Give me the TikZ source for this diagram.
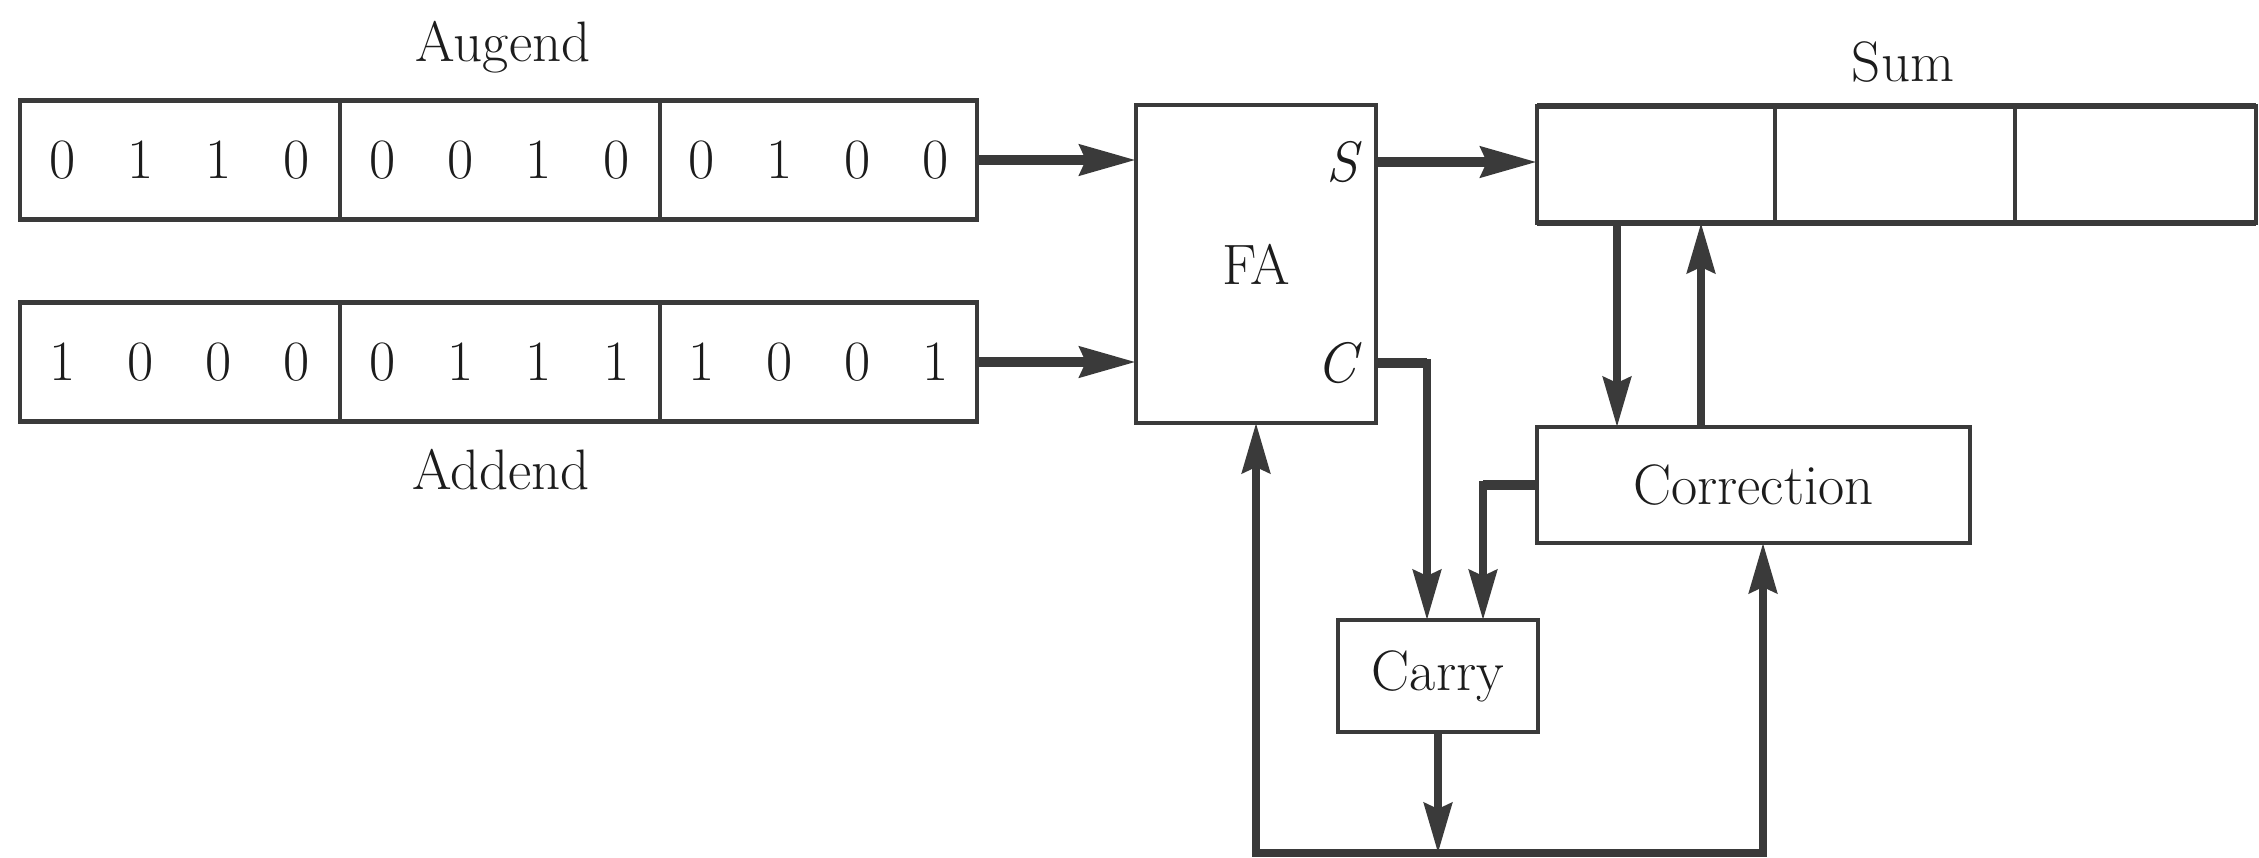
\documentclass[tikz,border=0pt]{standalone}
\usetikzlibrary{arrows.meta}
\definecolor{ink}{HTML}{3A3A3A}
\definecolor{txt}{HTML}{1C1C1C}
\newcommand\bits[4]{\makebox[39pt]{#1}\makebox[39pt]{#2}\makebox[39pt]{#3}\makebox[39pt]{#4}}
\begin{document}
\begin{tikzpicture}[x=0.5pt,y=-0.5pt,
  every node/.style={font=\fontsize{28.5pt}{34pt}\selectfont, text=txt},
  cell/.style={minimum height=59.5pt, inner sep=0pt, outer sep=0pt},
  blk/.style={draw=ink, line width=2.4pt, inner sep=0pt, outer sep=0pt},
  frame/.style={draw=ink, line width=2.1pt},
  rail/.style={draw=ink, line width=2.8pt},
  divider/.style={draw=ink, line width=1.6pt},
  conn/.style={draw=ink, line width=3.8pt, -{Stealth[length=25pt,width=14pt,inset=3pt]}},
  bus/.style={draw=ink, line width=5pt, -{Stealth[length=28pt,width=15pt,inset=3pt]}},
  busline/.style={draw=ink, line width=5pt}]
\fill[white] (0,0) rectangle (2259,857);
\useasboundingbox (0,0) rectangle (2259,857);

% Augend register
\node[cell, minimum width=160pt] (a1) at (180,160) {\bits0110};
\node[cell, minimum width=160pt] (a2) at (500,160) {\bits0010};
\node[cell, minimum width=158.5pt] (a3) at (818.5,160) {\bits0100};
\draw[frame] (a1.north west) rectangle (a3.south east);
\draw[rail] (a1.north west) -- (a3.north east) (a1.south west) -- (a3.south east);
\draw[divider] (a1.north east) -- (a1.south east) (a2.north east) -- (a2.south east);
\node (augl) at (503,47) {Augend};

% Addend register
\node[cell, minimum width=160pt] (b1) at (180,362) {\bits1000};
\node[cell, minimum width=160pt] (b2) at (500,362) {\bits0111};
\node[cell, minimum width=158.5pt] (b3) at (818.5,362) {\bits1001};
\draw[frame] (b1.north west) rectangle (b3.south east);
\draw[rail] (b1.north west) -- (b3.north east) (b1.south west) -- (b3.south east);
\draw[divider] (b1.north east) -- (b1.south east) (b2.north east) -- (b2.south east);
\node (addl) at (501,470) {Addend};

% Full adder
\node[blk, minimum width=120pt, minimum height=159pt] (fa) at (1256,264) {FA};
\node (s) at (1344,162) {\textit{S}};
\node (c) at (1339,363) {\textit{C}};

% Sum register
\node[cell, minimum width=119pt, minimum height=58.5pt] (s1) at (1656,164.5) {};
\node[cell, minimum width=120pt, minimum height=58.5pt] (s2) at (1895,164.5) {};
\node[cell, minimum width=120.5pt, minimum height=58.5pt] (s3) at (2135.5,164.5) {};
\draw[frame] (s1.north west) rectangle (s3.south east);
\draw[rail] (s1.north west) -- (s3.north east) (s1.south west) -- (s3.south east);
\draw[divider] (s1.north east) -- (s1.south east) (s2.north east) -- (s2.south east);
\node (suml) at (1903,62) {Sum};

% Correction and Carry
\node[blk, minimum width=216.5pt, minimum height=58pt] (corr) at (1753.5,485) {Correction};
\node[blk, minimum width=100pt, minimum height=56pt] (carry) at (1438,676) {Carry};

% helper coordinates
\coordinate (xdown) at (1617,0);
\coordinate (xup) at (1701,0);
\coordinate (xc) at (1427,0);
\coordinate (xk) at (1483,0);
\coordinate (xr) at (1763,0);
\coordinate (ybot) at (0,853);

% connectors
\draw[bus] (a3.east) -- (a3.east -| fa.west);
\draw[bus] (b3.east) -- (b3.east -| fa.west);
\draw[bus] (fa.east |- s) -- (s1.west |- s);
\draw[conn] (s1.south -| xdown) -- (corr.north -| xdown);
\draw[conn] (corr.north -| xup) -- (s1.south -| xup);
\draw[busline] (fa.east |- c) -- (xc |- c);
\draw[conn] (fa.east |- c) -| (carry.north -| xc);
\draw[busline] (corr.west) -- (corr.west -| xk);
\draw[conn] (corr.west) -| (carry.north -| xk);
\draw[conn] (carry.south) -- (carry.south |- ybot);
\draw[conn] (carry.south |- ybot) -| (fa.south);
\draw[conn] (carry.south |- ybot) -| (corr.south -| xr);
\end{tikzpicture}
\end{document}
